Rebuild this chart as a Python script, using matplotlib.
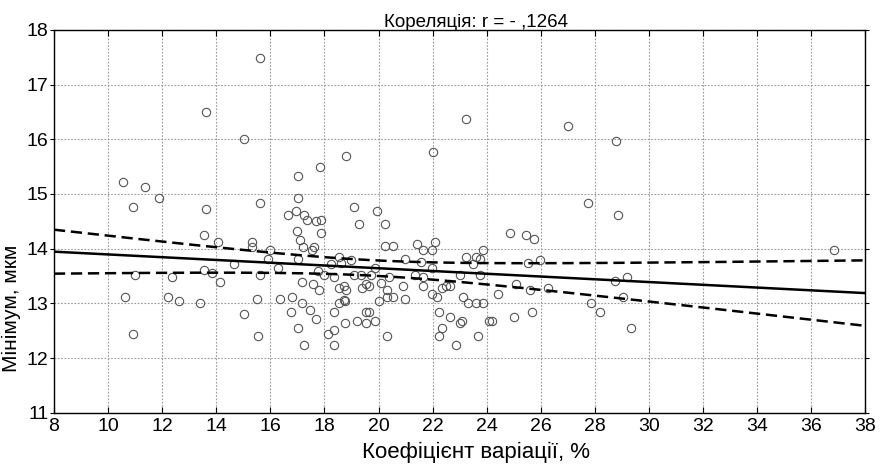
import numpy as np
import matplotlib.pyplot as plt

plt.rcParams['font.family'] = ['Liberation Sans', 'DejaVu Sans']

# coefficient of variation, %
cv = [10.56, 11.38, 10.93, 11.90, 13.62, 13.55, 14.07, 15.33, 15.33, 15.61,
      16.00, 15.92, 16.29, 17.02, 17.85, 18.81, 17.02, 16.96, 16.67, 17.26,
      17.35, 17.68, 17.86, 16.97, 17.86, 17.11, 17.20, 17.63, 17.55, 17.02,
      17.78, 18.00, 18.53, 18.62, 18.37, 13.55, 13.86, 14.14, 14.65, 15.61,
      11.01, 12.36, 17.18, 17.57, 17.79, 18.53, 18.71, 18.81, 10.64, 12.20,
      12.64, 15.49, 16.35, 16.81, 18.74, 13.40, 10.93, 15.03, 15.55, 17.18,
      16.75, 17.48, 17.70, 17.04, 17.26, 18.15, 18.37, 18.37, 18.37, 18.76,
      18.53, 18.76, 15.61, 13.62, 15.03, 23.22, 22.02, 19.11, 19.93, 19.26,
      20.24, 20.24, 20.54, 21.43, 22.09, 21.65, 21.96, 23.88, 18.24, 18.98,
      19.11, 19.36, 19.72, 19.88, 19.40, 19.55, 19.65, 20.09, 20.39, 20.32,
      20.32, 20.54, 20.00, 19.20, 19.55, 19.65, 19.55, 19.88, 20.32, 20.99,
      21.58, 21.96, 21.36, 21.65, 21.65, 20.91, 20.99, 21.96, 22.17, 22.33,
      22.48, 22.64, 22.25, 22.33, 22.25, 22.63, 22.85, 23.00, 23.08, 23.14,
      23.30, 23.00, 23.22, 23.51, 23.60, 23.76, 23.76, 23.60, 23.88, 23.67,
      24.09, 24.18, 24.40, 27.00, 28.79, 27.74, 28.87, 24.86, 25.45, 25.75,
      25.97, 25.54, 36.84, 25.08, 25.61, 26.27, 28.73, 29.18, 27.84, 29.03,
      28.20, 25.66, 25.00, 29.33]

# minimum, um
mn = [15.21, 15.13, 14.76, 14.92, 14.73, 14.25, 14.13, 14.13, 14.04, 14.84,
      13.97, 13.81, 13.64, 15.33, 15.49, 15.70, 14.92, 14.69, 14.61, 14.62,
      14.53, 14.50, 14.53, 14.33, 14.28, 14.16, 14.04, 14.04, 13.97, 13.81,
      13.60, 13.52, 13.84, 13.73, 13.48, 13.61, 13.56, 13.40, 13.72, 13.52,
      13.52, 13.48, 13.40, 13.36, 13.25, 13.28, 13.32, 13.25, 13.12, 13.12,
      13.05, 13.09, 13.09, 13.12, 13.06, 13.00, 12.44, 12.80, 12.40, 13.00,
      12.84, 12.88, 12.72, 12.56, 12.24, 12.44, 12.52, 12.24, 12.84, 12.64,
      13.00, 13.04, 17.49, 16.49, 16.01, 16.37, 15.77, 14.77, 14.69, 14.45,
      14.45, 14.05, 14.05, 14.09, 14.12, 13.97, 13.97, 13.97, 13.72, 13.80,
      13.52, 13.52, 13.52, 13.64, 13.28, 13.35, 13.32, 13.37, 13.48, 13.25,
      13.12, 13.12, 13.04, 12.68, 12.84, 12.84, 12.64, 12.68, 12.40, 13.81,
      13.76, 13.64, 13.52, 13.48, 13.32, 13.32, 13.08, 13.17, 13.12, 13.28,
      13.32, 13.32, 12.84, 12.56, 12.40, 12.76, 12.24, 12.64, 12.68, 13.12,
      13.00, 13.52, 13.84, 13.72, 13.84, 13.81, 13.52, 13.00, 13.00, 12.40,
      12.68, 12.68, 13.17, 16.25, 15.97, 14.84, 14.61, 14.28, 14.25, 14.17,
      13.80, 13.73, 13.97, 13.36, 13.25, 13.28, 13.41, 13.48, 13.00, 13.12,
      12.84, 12.84, 12.76, 12.56]

x = np.array(cv)
y = np.array(mn)

# linear fit with 95% confidence band for the mean
b, a = np.polyfit(x, y, 1)
n = len(x)
resid = y - (a + b * x)
s = np.sqrt((resid ** 2).sum() / (n - 2))
sxx = ((x - x.mean()) ** 2).sum()
xs = np.linspace(8, 38, 200)
ys = a + b * xs
half = 1.975 * s * np.sqrt(1.0 / n + (xs - x.mean()) ** 2 / sxx)

fig = plt.figure(figsize=(8.84, 4.66), dpi=100)
ax = fig.add_axes([0.061, 0.114, 0.918, 0.822])

ax.plot(x, y, linestyle='none', marker='o', markersize=6,
        markerfacecolor='none', markeredgecolor='#555555', markeredgewidth=0.8)
ax.plot(xs, ys, color='black', lw=1.8)
ax.plot(xs, ys + half, color='black', lw=1.8, dashes=(4.5, 2.3))
ax.plot(xs, ys - half, color='black', lw=1.8, dashes=(4.5, 2.3))

ax.set_xlim(8, 38)
ax.set_ylim(11, 18)
ax.set_xticks(np.arange(8, 39, 2))
ax.set_yticks(np.arange(11, 19, 1))
ax.grid(True, linestyle=(0, (1.5, 1.5)), color='#999999', lw=0.8)
ax.tick_params(axis='both', labelsize=14, width=0.8)
ax.tick_params(axis='y', direction='out', length=3, right=True, pad=1)
ax.tick_params(axis='x', direction='in', length=4, top=True, pad=4)
for sp in ax.spines.values():
    sp.set_linewidth(1.0)

ax.set_title('Кореляція: r = - ,1264', fontsize=13.5, x=0.52, pad=2)
ax.set_xlabel('Коефіцієнт варіації, %', fontsize=16)
ax.xaxis.set_label_coords(0.52, -0.075)
ax.set_ylabel('Мінімум, мкм', fontsize=15)
ax.yaxis.set_label_coords(-0.041, 0.274)

plt.savefig('out.png', dpi=100)
